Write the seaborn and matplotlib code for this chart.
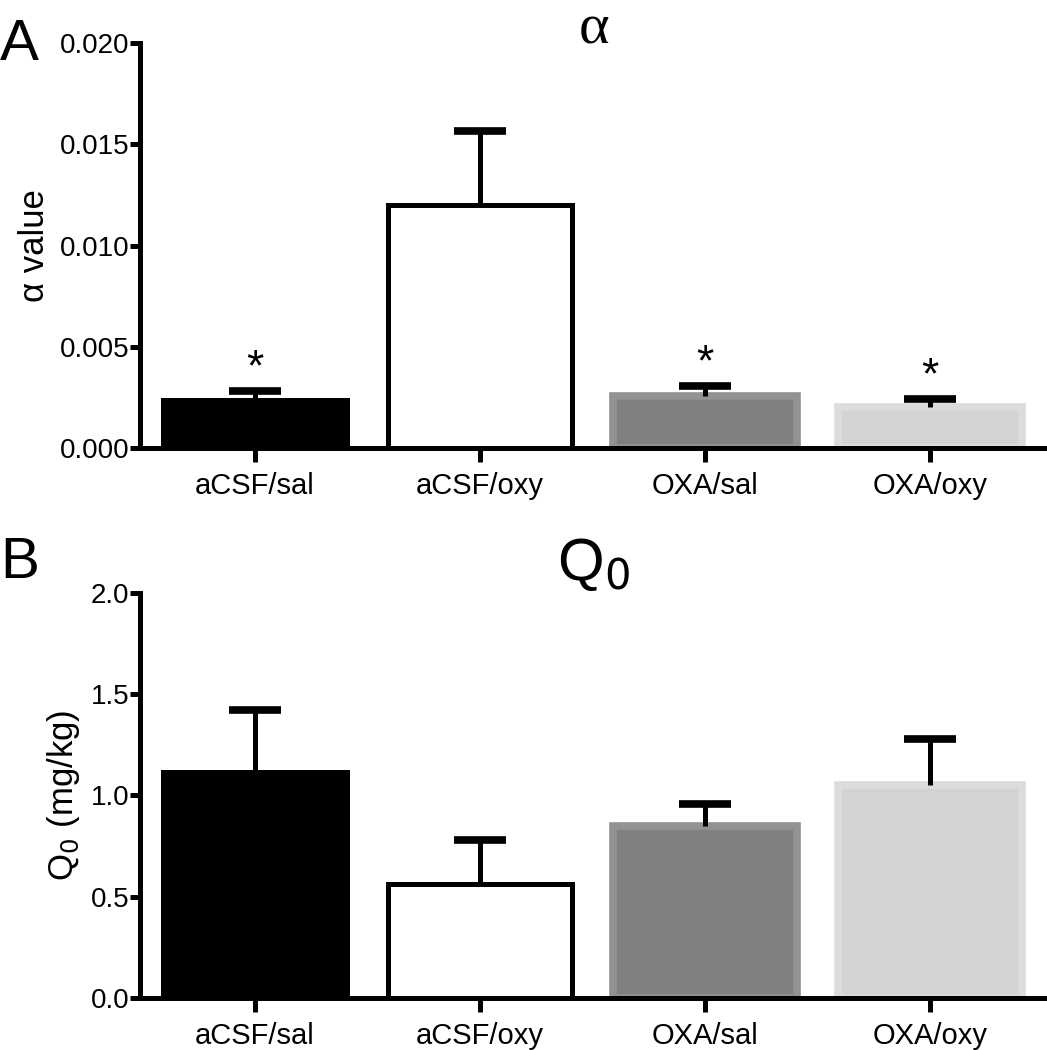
import numpy as np
import pandas as pd
import matplotlib
matplotlib.use("Agg")
import matplotlib.pyplot as plt
import seaborn as sns

groups = ["aCSF/sal", "aCSF/oxy", "OXA/sal", "OXA/oxy"]
alpha_mean = [0.00238, 0.01203, 0.00257, 0.00203]
alpha_sem = [0.00044, 0.00361, 0.00050, 0.00040]
alpha_sig = [True, False, True, True]
q0_mean = [1.114, 0.564, 0.850, 1.050]
q0_sem = [0.306, 0.216, 0.105, 0.227]

fills = ["#000000", "#ffffff", "#808080", "#d3d3d3"]
edges = ["#000000", "#000000", "#929292", "#dcdcdc"]

sns.set_style("ticks", {"axes.edgecolor": "black", "text.color": "black",
                        "xtick.color": "black", "ytick.color": "black",
                        "axes.labelcolor": "black"})
plt.rcParams["font.family"] = ["Liberation Sans", "DejaVu Sans"]

fig = plt.figure(figsize=(10.47, 10.5), dpi=100)
axA = fig.add_axes([0.134, 0.573, 0.866, 0.386])
axB = fig.add_axes([0.134, 0.0495, 0.866, 0.386])

lw = 3.6


def panel(ax, means, sems, ylim, yticks, fmt):
    df = pd.DataFrame({"group": groups, "value": means})
    sns.barplot(data=df, x="group", y="value", hue="group", palette=fills,
                legend=False, errorbar=None, width=0.82, ax=ax, zorder=2)
    for patch, ec in zip(ax.patches, edges):
        patch.set_edgecolor(ec)
        patch.set_linewidth(lw if ec == "#000000" else 5.5)
    eb = ax.errorbar(np.arange(len(groups)), means,
                     yerr=[np.zeros(len(sems)), sems],
                     fmt="none", ecolor="black", elinewidth=lw, capsize=18.5,
                     capthick=5.5, zorder=3)
    # keep only the upper cap
    eb[1][0].remove()
    ax.set_xlim(-0.51, 3.52)
    ax.set_ylim(*ylim)
    ax.set_yticks(yticks)
    ax.set_yticklabels([fmt.format(t) for t in yticks])
    ax.set_xlabel("")
    sns.despine(ax=ax)
    for s in ["left", "bottom"]:
        ax.spines[s].set_linewidth(lw)
        ax.spines[s].set_zorder(4)
    ax.tick_params(axis="y", length=7, width=lw, labelsize=20, pad=1)
    ax.tick_params(axis="x", length=10, width=lw, labelsize=21, pad=7)


panel(axA, alpha_mean, alpha_sem, (0, 0.02),
      [0, 0.005, 0.010, 0.015, 0.020], "{:.3f}")
axA.set_ylabel("\u03b1 value", fontsize=25, labelpad=6)
fig.text(0.567, 0.972, "\u03b1", fontsize=42, family="Liberation Serif",
         ha="center", va="center")
for i, (m, s, sig) in enumerate(zip(alpha_mean, alpha_sem, alpha_sig)):
    if sig:
        axA.text(i, m + s + 0.0001, "*", ha="center", va="bottom",
                 fontsize=32)

panel(axB, q0_mean, q0_sem, (0, 2.0), [0, 0.5, 1.0, 1.5, 2.0], "{:.1f}")
axB.set_ylabel("Q$_0$ (mg/kg)", fontsize=25, labelpad=6)
axB.set_title("Q$_0$", fontsize=43, pad=-4)

fig.text(0.0, 0.957, "A", fontsize=42, va="center", ha="left")
fig.text(0.0, 0.464, "B", fontsize=42, va="center", ha="left")

fig.savefig("out.png", dpi=100)
